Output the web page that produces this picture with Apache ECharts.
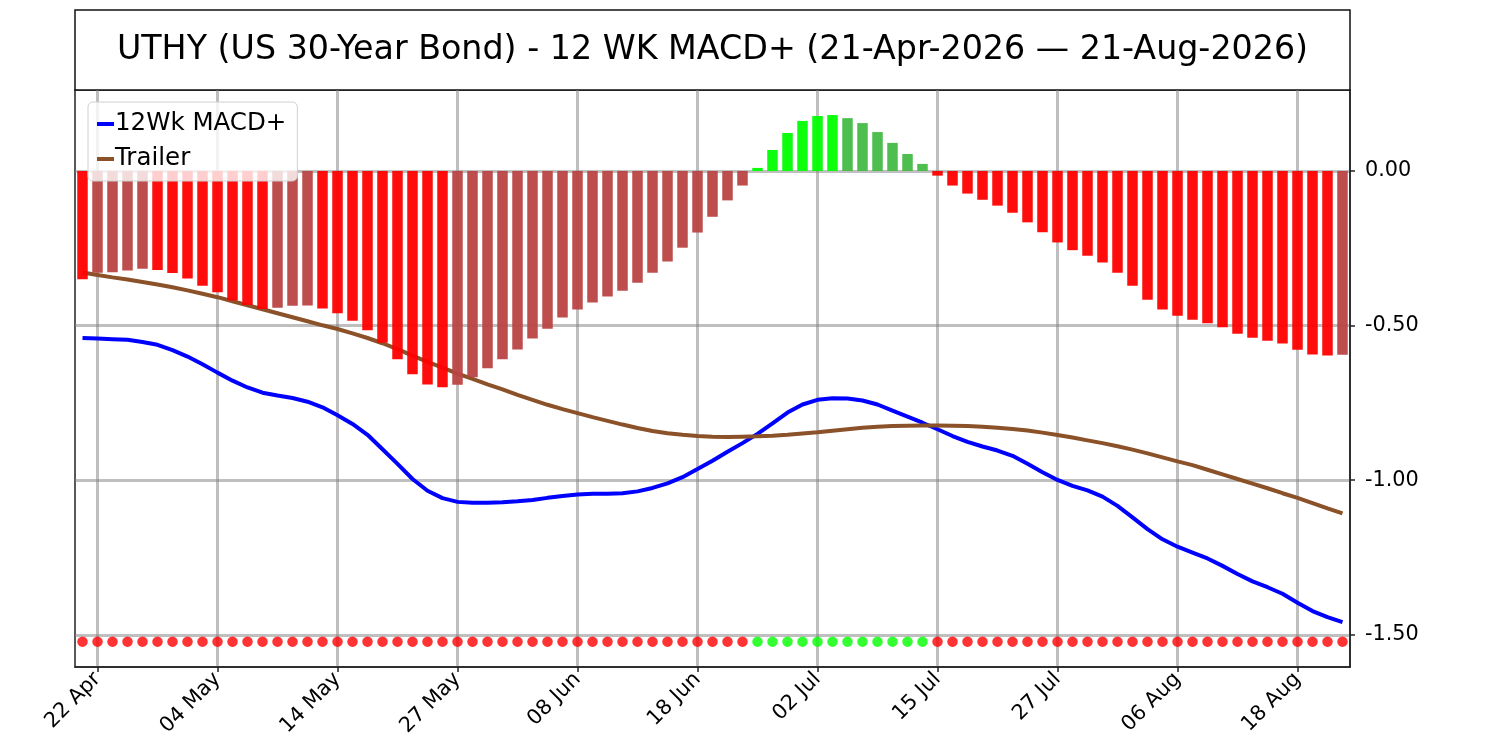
<!DOCTYPE html>
<html>
<head>
<meta charset="utf-8">
<title>UTHY 12 WK MACD+</title>
<script src="https://cdn.jsdelivr.net/npm/echarts@6/dist/echarts.min.js"></script>
<style>
  html, body { margin: 0; padding: 0; background: #fff; }
  #main { width: 1500px; height: 750px; }
</style>
</head>
<body>
<div id="main"></div>
<script>
// trading days shown on the x axis
var dates = ['21 Apr','22 Apr','23 Apr','24 Apr','27 Apr','28 Apr','29 Apr','30 Apr','01 May','04 May',
  '05 May','06 May','07 May','08 May','11 May','12 May','13 May','14 May','15 May','18 May',
  '19 May','20 May','21 May','22 May','26 May','27 May','28 May','29 May','01 Jun','02 Jun',
  '03 Jun','04 Jun','05 Jun','08 Jun','09 Jun','10 Jun','11 Jun','12 Jun','15 Jun','16 Jun',
  '17 Jun','18 Jun','22 Jun','23 Jun','24 Jun','25 Jun','26 Jun','29 Jun','30 Jun','02 Jul',
  '06 Jul','07 Jul','08 Jul','09 Jul','10 Jul','13 Jul','14 Jul','15 Jul','16 Jul','17 Jul',
  '20 Jul','21 Jul','22 Jul','23 Jul','24 Jul','27 Jul','28 Jul','29 Jul','30 Jul','31 Jul',
  '03 Aug','04 Aug','05 Aug','06 Aug','07 Aug','10 Aug','11 Aug','12 Aug','13 Aug','14 Aug',
  '17 Aug','18 Aug','19 Aug','20 Aug','21 Aug'];

// histogram bars
var histogram = [-0.350,-0.329,-0.327,-0.322,-0.316,-0.320,-0.330,-0.348,-0.371,-0.392,
  -0.419,-0.433,-0.446,-0.442,-0.436,-0.435,-0.445,-0.460,-0.484,-0.515,
  -0.555,-0.609,-0.657,-0.690,-0.699,-0.691,-0.667,-0.638,-0.609,-0.577,
  -0.542,-0.510,-0.474,-0.448,-0.425,-0.406,-0.387,-0.361,-0.329,-0.293,
  -0.248,-0.199,-0.148,-0.095,-0.047,0.010,0.068,0.123,0.162,0.178,
  0.181,0.171,0.155,0.126,0.091,0.055,0.023,-0.015,-0.047,-0.073,
  -0.093,-0.112,-0.135,-0.166,-0.198,-0.231,-0.256,-0.274,-0.296,-0.329,
  -0.371,-0.416,-0.448,-0.468,-0.481,-0.492,-0.505,-0.526,-0.539,-0.549,
  -0.558,-0.578,-0.593,-0.597,-0.594];

// 12Wk MACD+ line
var macd = [-0.540,-0.542,-0.544,-0.546,-0.553,-0.562,-0.579,-0.600,-0.625,-0.652,
  -0.678,-0.700,-0.717,-0.726,-0.734,-0.746,-0.764,-0.790,-0.818,-0.853,
  -0.900,-0.947,-0.996,-1.034,-1.058,-1.070,-1.073,-1.073,-1.071,-1.068,
  -1.064,-1.057,-1.051,-1.046,-1.044,-1.044,-1.042,-1.036,-1.025,-1.010,
  -0.990,-0.964,-0.937,-0.908,-0.880,-0.850,-0.816,-0.781,-0.755,-0.740,
  -0.735,-0.736,-0.742,-0.755,-0.775,-0.794,-0.814,-0.835,-0.857,-0.876,
  -0.891,-0.904,-0.921,-0.947,-0.974,-0.999,-1.018,-1.033,-1.053,-1.083,
  -1.120,-1.158,-1.191,-1.215,-1.234,-1.253,-1.277,-1.303,-1.327,-1.346,
  -1.367,-1.396,-1.423,-1.443,-1.459];

// Trailer line
var trailer = [-0.328,-0.336,-0.344,-0.351,-0.359,-0.367,-0.376,-0.386,-0.397,-0.408,
  -0.421,-0.434,-0.447,-0.460,-0.473,-0.486,-0.499,-0.511,-0.525,-0.540,
  -0.557,-0.576,-0.597,-0.617,-0.636,-0.655,-0.672,-0.690,-0.706,-0.724,
  -0.740,-0.756,-0.770,-0.783,-0.796,-0.808,-0.820,-0.831,-0.841,-0.848,
  -0.853,-0.857,-0.859,-0.860,-0.859,-0.858,-0.856,-0.853,-0.849,-0.845,
  -0.840,-0.835,-0.830,-0.827,-0.825,-0.824,-0.823,-0.823,-0.824,-0.825,
  -0.827,-0.830,-0.834,-0.839,-0.846,-0.854,-0.862,-0.871,-0.880,-0.890,
  -0.901,-0.913,-0.926,-0.939,-0.951,-0.966,-0.981,-0.996,-1.011,-1.026,
  -1.042,-1.057,-1.074,-1.091,-1.107];

// level of the signal dots, and y ticks
var signalLevel = -1.522;
var yTicks = [-1.5, -1.0, -0.5, 0];

var FONT = 'DejaVu Sans';

function showTick(index) {
  return index % 8 === 1;
}

// bar colours: bright when moving away from zero, muted when moving back
var barData = histogram.map(function (v, i) {
  var prev = i > 0 ? histogram[i - 1] : null;
  var rising = prev !== null && v > prev;
  var color;
  if (v >= 0) color = rising ? '#00ff00' : '#44bb44';
  else color = rising ? '#bb4343' : '#ff0000';
  return { value: v, itemStyle: { color: color } };
});

var dotData = histogram.map(function (v) {
  return { value: signalLevel, itemStyle: { color: v > 0 ? '#00ff00' : '#ff0000' } };
});

var myChart = echarts.init(document.getElementById('main'));

myChart.setOption({
  animation: false,
  backgroundColor: '#fff',
  textStyle: { fontFamily: FONT },
  graphic: [
    {
      type: 'rect',
      shape: { x: 75, y: 10, width: 1275, height: 80 },
      style: { fill: '#fff', stroke: '#111', lineWidth: 1.5 },
      z: 0
    },
    {
      type: 'text',
      x: 712.5,
      y: 50,
      style: {
        text: 'UTHY (US 30-Year Bond) - 12 WK MACD+ (21-Apr-2026 \u2014 21-Aug-2026)',
        font: '33.3px "DejaVu Sans"',
        fill: '#000',
        align: 'center',
        verticalAlign: 'middle'
      },
      z: 1
    }
  ],
  legend: {
    data: ['12Wk MACD+', 'Trailer'],
    orient: 'vertical',
    left: 88,
    top: 102,
    padding: [9, 11, 9, 9],
    itemGap: 9,
    itemWidth: 17,
    itemHeight: 4,
    icon: 'rect',
    backgroundColor: 'rgba(255,255,255,0.8)',
    borderColor: '#d0d0d0',
    borderWidth: 1,
    borderRadius: 5,
    textStyle: { fontFamily: FONT, fontSize: 24.5, lineHeight: 26, color: '#000', padding: [0, 0, 0, -4] }
  },
  grid: {
    left: 75,
    right: 150,
    top: 90,
    bottom: 83,
    show: true,
    borderColor: '#222',
    borderWidth: 1.5,
    backgroundColor: 'transparent'
  },
  xAxis: {
    type: 'category',
    data: dates,
    boundaryGap: true,
    axisLine: { show: true, onZero: false, lineStyle: { color: '#222', width: 1.5 } },
    axisTick: { show: true, interval: showTick, alignWithLabel: true, length: 5, lineStyle: { color: '#222', width: 1.5 } },
    axisLabel: { interval: showTick, rotate: 45, margin: 9, fontFamily: FONT, fontSize: 20.8, color: '#000' },
    splitLine: { show: true, interval: showTick, alignWithLabel: true, lineStyle: { color: 'rgba(128,128,128,0.5)', width: 3 } }
  },
  yAxis: {
    type: 'value',
    position: 'right',
    min: -1.604,
    max: 0.262,
    splitNumber: 4,
    axisLine: { show: true, lineStyle: { color: '#222', width: 1.5 } },
    axisTick: { show: true, length: 5, customValues: yTicks, lineStyle: { color: '#222', width: 1.5 } },
    axisLabel: {
      customValues: yTicks,
      margin: 15,
      fontFamily: FONT,
      fontSize: 20.8,
      color: '#000',
      formatter: function (v) { return v.toFixed(2); }
    },
    splitLine: { show: true, lineStyle: { color: 'rgba(128,128,128,0.5)', width: 3 } }
  },
  series: [
    {
      name: 'Histogram',
      type: 'bar',
      data: barData,
      barWidth: '70%',
      itemStyle: { opacity: 0.95 },
      z: 3
    },
    {
      name: '12Wk MACD+',
      type: 'line',
      data: macd,
      showSymbol: false,
      symbol: 'none',
      color: '#0000ff',
      lineStyle: { color: '#0000ff', width: 4 },
      z: 2
    },
    {
      name: 'Trailer',
      type: 'line',
      data: trailer,
      showSymbol: false,
      symbol: 'none',
      color: '#8b5129',
      lineStyle: { color: '#8b5129', width: 4 },
      z: 2
    },
    {
      name: 'Signal',
      type: 'scatter',
      data: dotData,
      symbolSize: 10.5,
      z: 4
    }
  ]
});
</script>
</body>
</html>
